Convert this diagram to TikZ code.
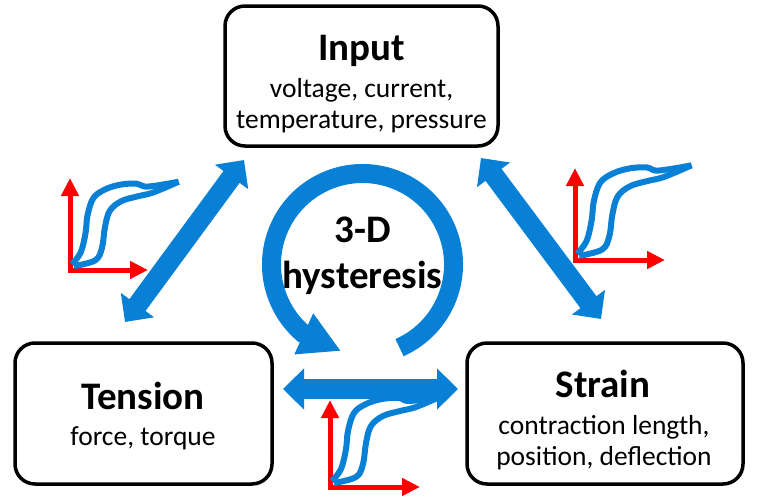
\documentclass[tikz,border=0pt]{standalone}
\usepackage{fontspec}
\setmainfont{Carlito}
\usepackage{xcolor}
\usetikzlibrary{arrows.meta}
\definecolor{hblue}{RGB}{8,128,214}

\begin{document}
\begin{tikzpicture}[x=1pt,y=-1pt,
box/.style={draw,line width=3.5pt,rounded corners=20pt,inner sep=0pt},
title/.style={font=\fontsize{39}{42}\selectfont\bfseries,inner sep=0pt},
sub/.style={font=\fontsize{27.5}{31}\selectfont,align=center,inner sep=0pt},
blockarrow/.style={hblue,line width=20pt,{Triangle[length=21pt,width=40pt]}-{Triangle[length=21pt,width=40pt]}},
axis/.style={red,line width=5pt,-{Triangle[length=18pt,width=17pt]}},
loop/.style={hblue,line width=6pt,line join=round}]
\useasboundingbox (0,0) rectangle (758,501);
% boxes
\node[box,minimum width=273pt,minimum height=140pt] (input) at (361.5,76) {};
\node[box,minimum width=257pt,minimum height=141pt] (tension) at (143.5,413.5) {};
\node[box,minimum width=276pt,minimum height=141pt] (strain) at (605,413.5) {};
\node[title,anchor=base] (inputT) at (361.5,60) {Input};
\node[sub,anchor=base] (inputS) at (361.5,128) {voltage, current,\\temperature, pressure};
\node[title,anchor=base] (tensionT) at (143,409) {Tension};
\node[sub,anchor=base] (tensionS) at (143,445) {force, torque};
\node[title,anchor=base] (strainT) at (603,397) {Strain};
\node[sub,anchor=base] (strainS) at (604,465) {contraction length,\\position, deflection};
% hysteresis icons
\foreach \ox/\oy/\vl/\hl/\s in {70/270/92/78/0.97, 575/260/92/90/1.04, 330/487/87/90/1}{
\draw[axis](\ox,\oy+2.5)--(\ox,\oy-\vl);
\draw[axis](\ox-2.5,\oy)--(\ox+\hl,\oy);
\begin{scope}[shift={(\ox,\oy)},scale=\s]
\draw[loop] plot[smooth,tension=0.6] coordinates {(2,-6) (11,-18) (16,-38) (18,-56) (24,-74) (36,-83) (52,-88) (69,-89) (80,-86) (112,-91)};
\draw[loop] plot[smooth,tension=0.6] coordinates {(4,-4) (26,-10) (33,-23) (36,-44) (41,-61) (53,-71) (70,-76) (86,-80) (112,-91)};
\end{scope}
}
% circular arrow
\draw[hblue,line width=19pt,-{Triangle[length=41pt,width=42pt]}]
(362.5,264.5) ++(66:91) arc[start angle=66,end angle=-229.5,radius=91] -- (341,351);
\node[title,anchor=base] (loopA) at (362.5,242) {3-D};
\node[title,anchor=base] (loopB) at (362.5,288) {hysteresis};
% double arrows
\coordinate (inSW) at (244,160);
\coordinate (tenN) at (125,322);
\coordinate (inSE) at (481,158);
\coordinate (strN) at (601,319);
\coordinate (tenE) at (283,389);
\coordinate (strW) at (458,389);
\draw[blockarrow](tenN)--(inSW);
\draw[blockarrow](strN)--(inSE);
\draw[blockarrow](tenE)--(strW);
\end{tikzpicture}
\end{document}
